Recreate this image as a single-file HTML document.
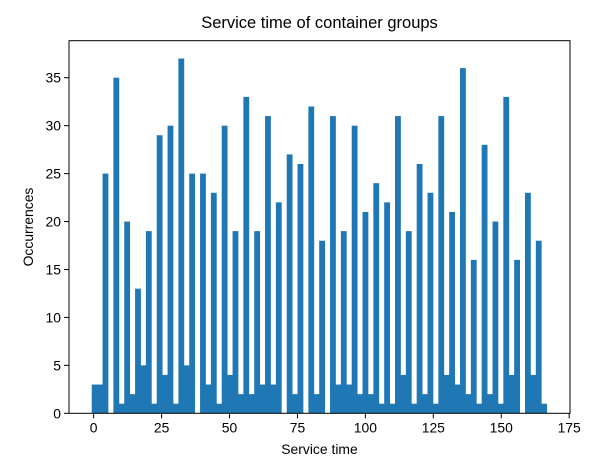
<!DOCTYPE html>
<html><head><meta charset="utf-8"><style>
body{margin:0;background:#fff;}
svg text{font-family:"Liberation Sans","DejaVu Sans",sans-serif;fill:#000;}
</style></head><body>
<svg id="chart" width="606" height="461" viewBox="0 0 606 461" xmlns="http://www.w3.org/2000/svg">
<rect x="0" y="0" width="606" height="461" fill="#fff"/>
<text x="319.5" y="28" font-size="16.5" text-anchor="middle">Service time of container groups</text>
<g id="bars"></g>
<g id="axes"></g>
<text x="319.5" y="454" font-size="13.9" text-anchor="middle">Service time</text>
<text transform="translate(33,227) rotate(-90)" font-size="13.9" text-anchor="middle">Occurrences</text>
</svg>
<script>
const counts = [3,3,25,0,35,1,20,2,13,5,19,1,29,4,30,1,37,5,25,0,25,3,23,1,30,4,19,2,33,2,19,3,31,3,22,0,27,2,26,0,32,2,18,0,31,3,19,3,30,2,21,2,24,1,22,1,31,4,19,1,26,2,23,1,31,4,21,3,36,2,16,1,28,2,20,1,33,4,16,0,23,4,18,1];
const binStart = -0.7;
const binWidth = 1.993;
const xTicks = [0,25,50,75,100,125,150,175];
const yTicks = [0,5,10,15,20,25,30,35];

const L=69, R=570, T=40.7, B=413.3;
const xMin=-9.07, xMax=175.3, yMax=38.86;
const sx = v => L + (v - xMin) / (xMax - xMin) * (R - L);
const sy = v => B - v / yMax * (B - T);
const NS = "http://www.w3.org/2000/svg";
const mk = (tag, attrs, parent) => { const e = document.createElementNS(NS, tag); for (const k in attrs) e.setAttribute(k, attrs[k]); parent.appendChild(e); return e; };

const bars = document.getElementById('bars');
counts.forEach((c, i) => {
  if (c <= 0) return;
  const x0 = sx(binStart + i * binWidth), x1 = sx(binStart + (i + 1) * binWidth);
  const r = mk('rect', {x: x0, y: sy(c), width: x1 - x0 + 0.4, height: sy(0) - sy(c), fill: '#1f77b4'}, bars);
  
  
});

const axes = document.getElementById('axes');
const frame = mk('rect', {x: L, y: T, width: R - L, height: B - T, fill: 'none', stroke: '#000', 'stroke-width': 1}, axes);


xTicks.forEach(v => {
  const x = sx(v);
  const t = mk('line', {x1: x, x2: x, y1: B, y2: B + 5, stroke: '#000', 'stroke-width': 1}, axes);
  
  
  const lb = mk('text', {x: x, y: B + 19, 'font-size': 13.9, 'text-anchor': 'middle'}, axes);
  lb.textContent = v;
  
  
});
yTicks.forEach(v => {
  const y = sy(v);
  const t = mk('line', {x1: L - 5, x2: L, y1: y, y2: y, stroke: '#000', 'stroke-width': 1}, axes);
  
  
  const lb = mk('text', {x: L - 8, y: y + 5, 'font-size': 13.9, 'text-anchor': 'end'}, axes);
  lb.textContent = v;
  
  
});
</script>
</body></html>
